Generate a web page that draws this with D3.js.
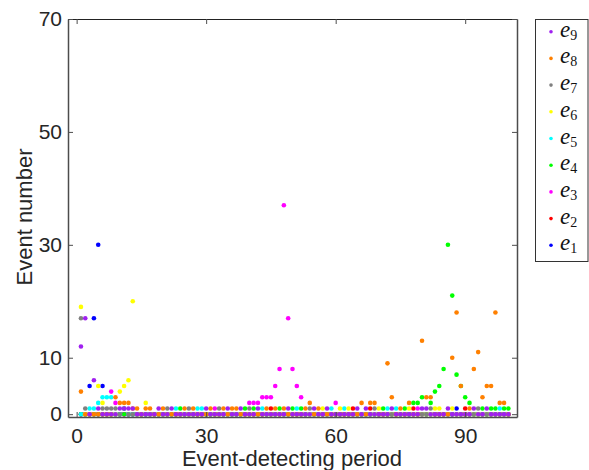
<!DOCTYPE html>
<html><head><meta charset="utf-8">
<script src="https://cdn.jsdelivr.net/npm/d3@7"></script>
<style>body{margin:0;background:#fff}</style>
</head><body>
<svg id="c" width="589" height="470"></svg>
<script>
// Event-detecting periods 1..100
const periods = d3.range(1, 101);

const e9 = [12,17,0,6,1,0,0,0,0,1, 1,1,1,0,0,0,0,0,1,0, 0,1,0,0,0,0,0,0,0,1, 0,0,0,0,1,0,0,1,0,0,
            0,1,0,0,0,0,0,0,1,0, 0,0,0,0,1,0,0,1,0,0, 0,0,0,0,1,0,1,0,0,0, 0,0,1,0,0,0,0,0,0,1,
            1,0,0,0,0,1,0,0,0,0, 0,1,0,0,1,0,0,0,0,0];
const e8 = [4,0,0,0,0,0,0,0,3,2, 2,2,1,1,0,1,1,0,0,1, 0,0,0,0,1,0,1,0,0,0, 1,0,0,1,0,1,1,0,0,0,
            0,0,0,1,0,1,0,1,0,0, 0,0,1,2,0,1,0,0,0,0, 0,0,0,0,0,2,0,2,2,0, 0,9,3,0,1,0,2,0,0,13,
            3,3,0,0,0,0,10,18,5,0, 1,8,11,3,5,5,18,2,2,0];
const e7 = [17,1,0,0,0,1,1,1,1,0, 1,0,0,0,0,0,0,0,0,0, 1,0,0,0,0,1,0,0,0,0, 0,0,1,0,0,0,0,0,0,1,
            0,0,0,0,0,0,0,0,0,0, 0,0,0,1,0,0,0,0,0,0, 0,0,0,0,0,0,0,0,1,0, 0,0,0,0,0,0,0,0,0,0,
            0,1,0,0,0,0,0,0,0,0, 0,0,1,0,0,0,0,0,0,0];
const e6 = [19,0,0,0,5,2,0,0,0,4, 5,6,20,0,0,2,0,0,0,0, 0,0,0,0,0,0,0,0,0,0, 0,0,0,0,0,0,0,0,0,0,
            0,0,0,0,0,0,0,0,0,0, 0,0,0,0,0,0,1,0,0,0, 1,0,1,0,0,0,0,0,0,1, 0,0,0,0,0,0,1,0,0,0,
            0,0,1,1,0,0,1,0,0,0, 0,0,0,0,0,0,0,0,0,0];
const e5 = [0,0,1,1,2,3,3,3,0,0, 1,0,0,0,0,0,0,0,0,0, 0,0,1,0,0,0,0,1,1,0, 0,0,0,0,0,0,0,0,0,0,
            0,0,1,0,0,0,0,0,0,0, 1,0,0,0,0,0,0,0,1,0, 0,1,0,0,0,0,0,0,0,0, 0,1,0,1,0,0,0,0,0,0,
            0,0,0,0,0,0,0,0,0,0, 0,0,0,0,0,0,0,1,0,0];
const e4 = [0,0,0,0,0,0,0,0,0,0, 0,0,0,0,0,0,0,0,0,0, 0,0,0,1,0,0,0,0,0,0, 0,0,0,0,0,0,0,0,1,0,
            1,0,0,0,0,0,1,0,0,1, 0,1,0,0,0,0,0,0,0,0, 0,0,0,0,0,0,0,0,0,0, 1,0,0,0,0,1,0,2,2,3,
            0,2,4,5,8,30,21,7,5,3, 2,0,0,1,0,1,1,0,1,1];
const e3 = [0,0,0,0,0,0,0,4,2,0, 0,0,0,0,0,0,0,0,0,0, 0,0,0,0,0,0,0,0,0,0, 0,1,0,0,0,0,0,0,0,2,
            2,2,3,3,3,5,8,37,17,8, 5,3,0,0,0,0,0,0,0,2, 0,0,0,0,0,0,0,0,0,0, 0,0,0,0,0,0,0,0,1,0,
            0,0,0,0,0,0,0,0,0,0, 0,0,0,0,0,0,0,0,0,0];
const e2 = [0,0,0,0,0,0,0,0,0,0, 0,0,0,0,0,0,0,0,0,0, 0,0,0,0,0,0,0,0,0,0, 0,0,0,0,0,0,0,0,0,0,
            0,0,0,0,1,0,0,0,0,0, 0,0,0,0,0,0,0,0,0,0, 0,0,0,1,0,0,0,1,0,0, 0,0,0,0,0,0,0,1,0,0,
            0,0,0,0,0,0,0,0,0,1, 0,0,0,0,0,0,0,0,0,0];
const e1 = [0,0,5,17,30,5,0,0,0,0, 0,0,0,0,0,0,0,0,0,0, 0,0,0,0,0,0,0,0,0,0, 0,0,0,0,0,0,0,0,0,0,
            0,0,0,0,0,0,0,0,0,0, 0,0,0,0,0,0,0,0,0,0, 0,0,0,0,0,0,0,0,0,0, 0,0,0,0,0,0,0,0,0,0,
            0,0,0,0,0,0,0,1,0,0, 0,0,0,0,0,0,0,0,0,0];

// drawing order e1 .. e9 (e9 on top)
const seriesNames = ["1","2","3","4","5","6","7","8","9"];
const seriesValues = [e1,e2,e3,e4,e5,e6,e7,e8,e9];
const seriesColors = ["#0000ff","#ff0000","#ff00ff","#00ff00","#00ffff","#ffff00","#808080","#ff8000","#a020f0"];

const xTicks = [0,30,60,90];
const yTicks = [0,10,30,50,70];

const svg = d3.select("#c");
const x = d3.scaleLinear().domain([-2,102]).range([68,517]);
const y = d3.scaleLinear().domain([-0.5,70]).range([417,19]);

const tickFont = "Liberation Sans, Arial, sans-serif";
const axisColor = "#4d4d4d";

// dots
seriesValues.forEach((vals, si) => {
  svg.append("g").selectAll("circle").data(periods).join("circle")
    .attr("cx", d => x(d))
    .attr("cy", (d,i) => y(vals[i]))
    .attr("r", 2.3)
    .attr("fill", seriesColors[si]);
});

// axes
const gB = svg.append("g").attr("transform", `translate(0,${y.range()[0]})`)
  .call(d3.axisBottom(x).tickValues(xTicks).tickSizeInner(-5).tickSizeOuter(0).tickPadding(11));
const gT = svg.append("g").attr("transform", `translate(0,${y.range()[1]})`)
  .call(d3.axisTop(x).tickValues(xTicks).tickSizeInner(-5).tickSizeOuter(0).tickFormat(""));
const gL = svg.append("g").attr("transform", `translate(${x.range()[0]},0)`)
  .call(d3.axisLeft(y).tickValues(yTicks).tickSizeInner(-5).tickSizeOuter(0).tickPadding(6));
const gR = svg.append("g").attr("transform", `translate(${x.range()[1]},0)`)
  .call(d3.axisRight(y).tickValues(yTicks).tickSizeInner(-5).tickSizeOuter(0).tickFormat(""));

[gB,gT,gL,gR].forEach(g => {
  g.select(".domain").attr("stroke", axisColor).attr("stroke-width", 1.5);
  g.selectAll(".tick line").attr("stroke", axisColor).attr("stroke-width", 1);
  g.selectAll(".tick text").attr("fill", "#262626").style("font-family", tickFont).style("font-size", "21px");
});
gT.select(".domain").attr("stroke", "#222").attr("stroke-width", 1);

// axis titles
svg.append("text").attr("x", 292).attr("y", 466).attr("text-anchor", "middle")
  .style("font-family", tickFont).style("font-size", "22px").attr("fill", "#262626")
  .text("Event-detecting period");
svg.append("text").attr("transform", "translate(32,217) rotate(-90)").attr("text-anchor", "middle")
  .style("font-family", tickFont).style("font-size", "22px").attr("fill", "#262626")
  .text("Event number");

// legend (e9 at top)
const lg = svg.append("g");
lg.append("rect").attr("x", 535.5).attr("y", 19.5).attr("width", 52.5).attr("height", 242)
  .attr("fill", "#fff").attr("stroke", "#333").attr("stroke-width", 1);
const legendOrder = d3.range(8, -1, -1);
legendOrder.forEach((si, k) => {
  const cy = 31.7 + k * 26.7;
  lg.append("circle").attr("cx", 551).attr("cy", cy).attr("r", 1.8).attr("fill", seriesColors[si]);
  const t = lg.append("text").attr("x", 560).attr("y", cy + 5)
    .style("font-family", "Liberation Serif, Times New Roman, serif").attr("fill", "#111");
  t.append("tspan").style("font-style", "italic").style("font-size", "23px").text("e");
  t.append("tspan").attr("dy", 3).style("font-size", "14px").text(seriesNames[si]);
});
</script>
</body></html>
